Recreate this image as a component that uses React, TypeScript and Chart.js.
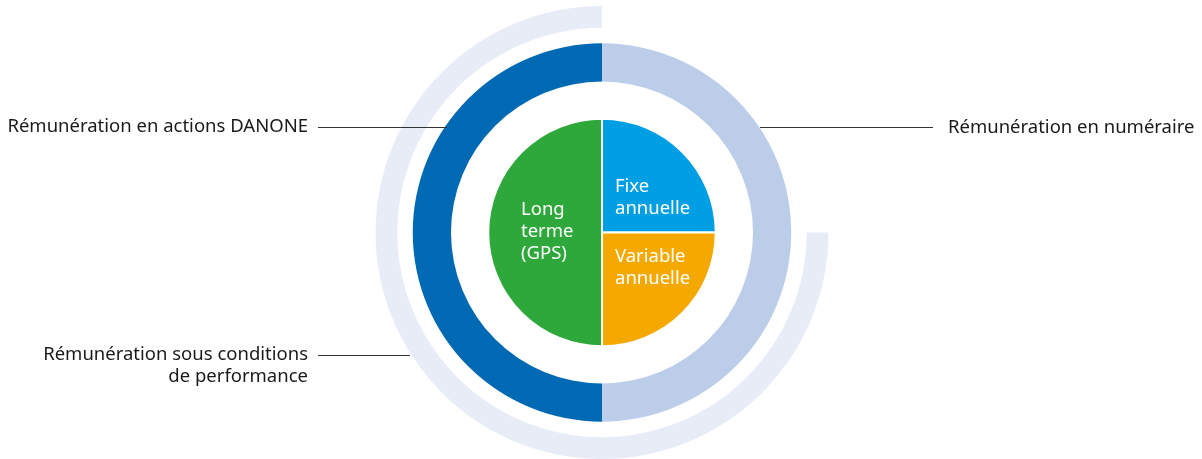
import React, { useEffect, useRef } from "react";
import { Chart, registerables } from "chart.js";

Chart.register(...registerables);

// Outer partial ring (75% of the circle, starting at 3 o'clock)
const outerValues = [25, 75];
const outerColors = ["rgba(0,0,0,0)", "#e7ecf7"];

// Middle ring: cash vs shares
const middleLabels = ["Rémunération en numéraire", "Rémunération en actions DANONE"];
const middleValues = [50, 50];
const middleColors = ["#bccdea", "#0069b4"];

// Inner pie
const pieLabels = [["Fixe", "annuelle"], ["Variable", "annuelle"], ["Long", "terme", "(GPS)"]];
const pieValues = [25, 25, 50];
const pieColors = ["#009fe3", "#f5a800", "#2ea83a"];

const sideLabelLeftTop = ["Rémunération en actions DANONE"];
const sideLabelLeftBottom = ["Rémunération sous conditions", "de performance"];
const sideLabelRight = ["Rémunération en numéraire"];

const FONT = '"Noto Sans", "Open Sans", sans-serif';

const labelPlugin = {
  id: "labels",
  afterDraw(chart: any) {
    const ctx = chart.ctx as CanvasRenderingContext2D;
    ctx.save();
    // leader lines
    ctx.strokeStyle = "#333333";
    ctx.lineWidth = 1;
    const lines = [
      [318, 127.5, 447, 127.5],
      [760, 127.5, 933, 127.5],
      [318, 355.5, 410, 355.5],
    ];
    for (const [x1, y1, x2, y2] of lines) {
      ctx.beginPath();
      ctx.moveTo(x1, y1);
      ctx.lineTo(x2, y2);
      ctx.stroke();
    }
    ctx.fillStyle = "#1a1a1a";
    ctx.font = `18.5px ${FONT}`;
    ctx.textBaseline = "middle";
    ctx.textAlign = "right";
    ctx.fillText(sideLabelLeftTop[0], 308, 127);
    sideLabelLeftBottom.forEach((t, i) => ctx.fillText(t, 308, 355 + i * 22));
    ctx.textAlign = "left";
    ctx.fillText(sideLabelRight[0], 948, 128);

    // pie labels
    ctx.fillStyle = "#ffffff";
    ctx.font = `18.5px ${FONT}`;
    const pos = [
      [615, 187],
      [615, 257],
      [521, 210],
    ];
    pieLabels.forEach((ls, i) => {
      ls.forEach((t, j) => ctx.fillText(t, pos[i][0], pos[i][1] + j * 22));
    });
    ctx.restore();
  },
};

export default function App() {
  const ref = useRef<HTMLCanvasElement | null>(null);
  useEffect(() => {
    if (!ref.current) return;
    const spacer = {
      data: [1],
      backgroundColor: ["rgba(0,0,0,0)"],
      borderWidth: 0,
    };
    const chart = new Chart(ref.current, {
      type: "doughnut",
      data: {
        labels: ["a", "b", "c"],
        datasets: [
          { data: outerValues, backgroundColor: outerColors, borderWidth: 0, weight: 22 } as any,
          { ...spacer, weight: 15.5 } as any,
          { data: middleValues, backgroundColor: middleColors, borderWidth: 0, weight: 38.5, label: middleLabels.join(",") } as any,
          { ...spacer, weight: 37.5 } as any,
          { data: pieValues, backgroundColor: pieColors, borderWidth: 2, borderColor: "#ffffff", weight: 114.5 } as any,
        ],
      },
      options: {
        responsive: false,
        animation: false,
        cutout: 0,
        layout: { padding: { top: 6, left: 2, right: 0, bottom: 0 } },
        plugins: { legend: { display: false }, tooltip: { enabled: false } },
        events: [],
      } as any,
      plugins: [labelPlugin],
    });
    return () => chart.destroy();
  }, []);
  return (
    <div style={{ position: "absolute", left: 0, top: 0, width: 1202, height: 459, background: "#fff" }}>
      <canvas ref={ref} width={1202} height={459} style={{ display: "block" }} />
    </div>
  );
}
